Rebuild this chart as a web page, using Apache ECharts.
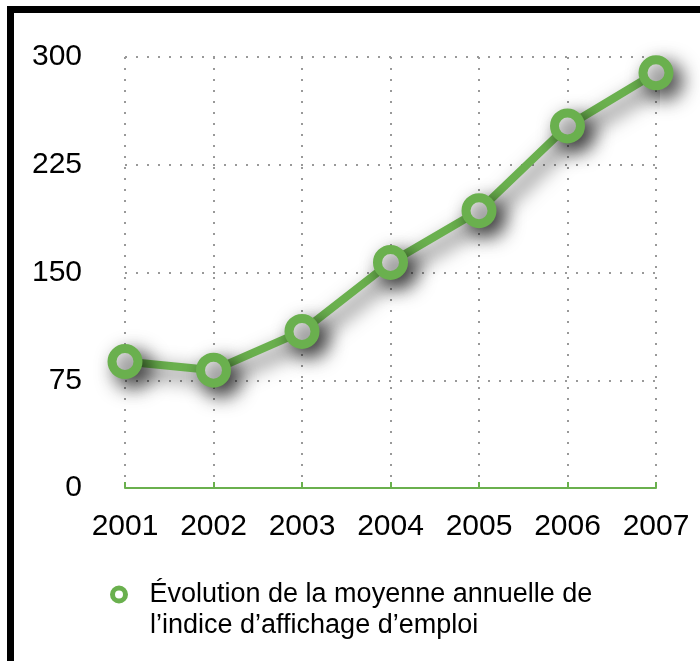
<!DOCTYPE html>
<html>
<head>
<meta charset="utf-8">
<script src="https://cdn.jsdelivr.net/npm/echarts@6/dist/echarts.min.js"></script>
<style>html,body{margin:0;padding:0;background:#fff}#c{width:700px;height:661px}</style>
</head>
<body>
<div id="c"></div>
<script>
const years = ['2001','2002','2003','2004','2005','2006','2007'];
const values = [88, 82, 109, 157, 193, 252, 289];
const yTicks = [0, 75, 150, 225, 300];
const legendLines = ['Évolution de la moyenne annuelle de', 'l’indice d’affichage d’emploi'];
const seriesName = legendLines.join(' ');

const green = '#6ab04e';
const font = '"Liberation Sans", Arial, sans-serif';
const chart = echarts.init(document.getElementById('c'));
chart.setOption({
  animation: false,
  backgroundColor: '#fff',
  graphic: [{
    type: 'rect', z: 100,
    shape: {x: 10.5, y: 9.5, width: 800, height: 800},
    style: {fill: 'none', stroke: '#000', lineWidth: 7}
  }, {
    type: 'text', left: 150, top: 612,
    style: {text: legendLines[1], font: '27px ' + font, fill: '#000'}
  }],
  grid: {left: 125, right: 44, top: 57, bottom: 173},
  legend: {
    left: 105, top: 576,
    itemWidth: 13, itemHeight: 13,
    formatter: () => legendLines[0],
    data: [{name: seriesName, icon: 'circle',
      itemStyle: {color: '#fff', borderColor: green, borderWidth: 5, shadowBlur: 0, shadowOffsetX: 0, shadowOffsetY: 0, shadowColor: 'transparent'}}],
    textStyle: {fontFamily: font, fontSize: 27, color: '#000', padding: [6, 0, 0, 19]}
  },
  xAxis: {
    type: 'category', data: years, boundaryGap: false,
    axisLine: {show: true, lineStyle: {color: green, width: 2}},
    axisTick: {show: true, inside: true, length: 6, interval: 0, lineStyle: {color: green, width: 2}},
    axisLabel: {fontFamily: font, fontSize: 30, color: '#000', margin: 24, interval: 0},
    splitLine: {show: true, interval: 0, lineStyle: {color: '#999', width: 2, type: [2, 9]}}
  },
  yAxis: {
    type: 'value', min: yTicks[0], max: yTicks[yTicks.length - 1], interval: 75,
    axisLine: {show: false}, axisTick: {show: false},
    axisLabel: {fontFamily: font, fontSize: 30, color: '#000', margin: 43},
    splitLine: {show: true, lineStyle: {color: '#999', width: 2, type: [2, 9]}}
  },
  series: [{
    name: seriesName, type: 'line', data: values,
    symbol: 'circle', symbolSize: 26,
    lineStyle: {color: green, width: 8, shadowBlur: 20, shadowColor: 'rgba(0,0,0,0.7)', shadowOffsetX: 8, shadowOffsetY: 8},
    itemStyle: {color: '#fff', borderColor: green, borderWidth: 9, shadowBlur: 20, shadowColor: 'rgba(0,0,0,0.7)', shadowOffsetX: 8, shadowOffsetY: 8}
  }]
});
</script>
</body>
</html>
